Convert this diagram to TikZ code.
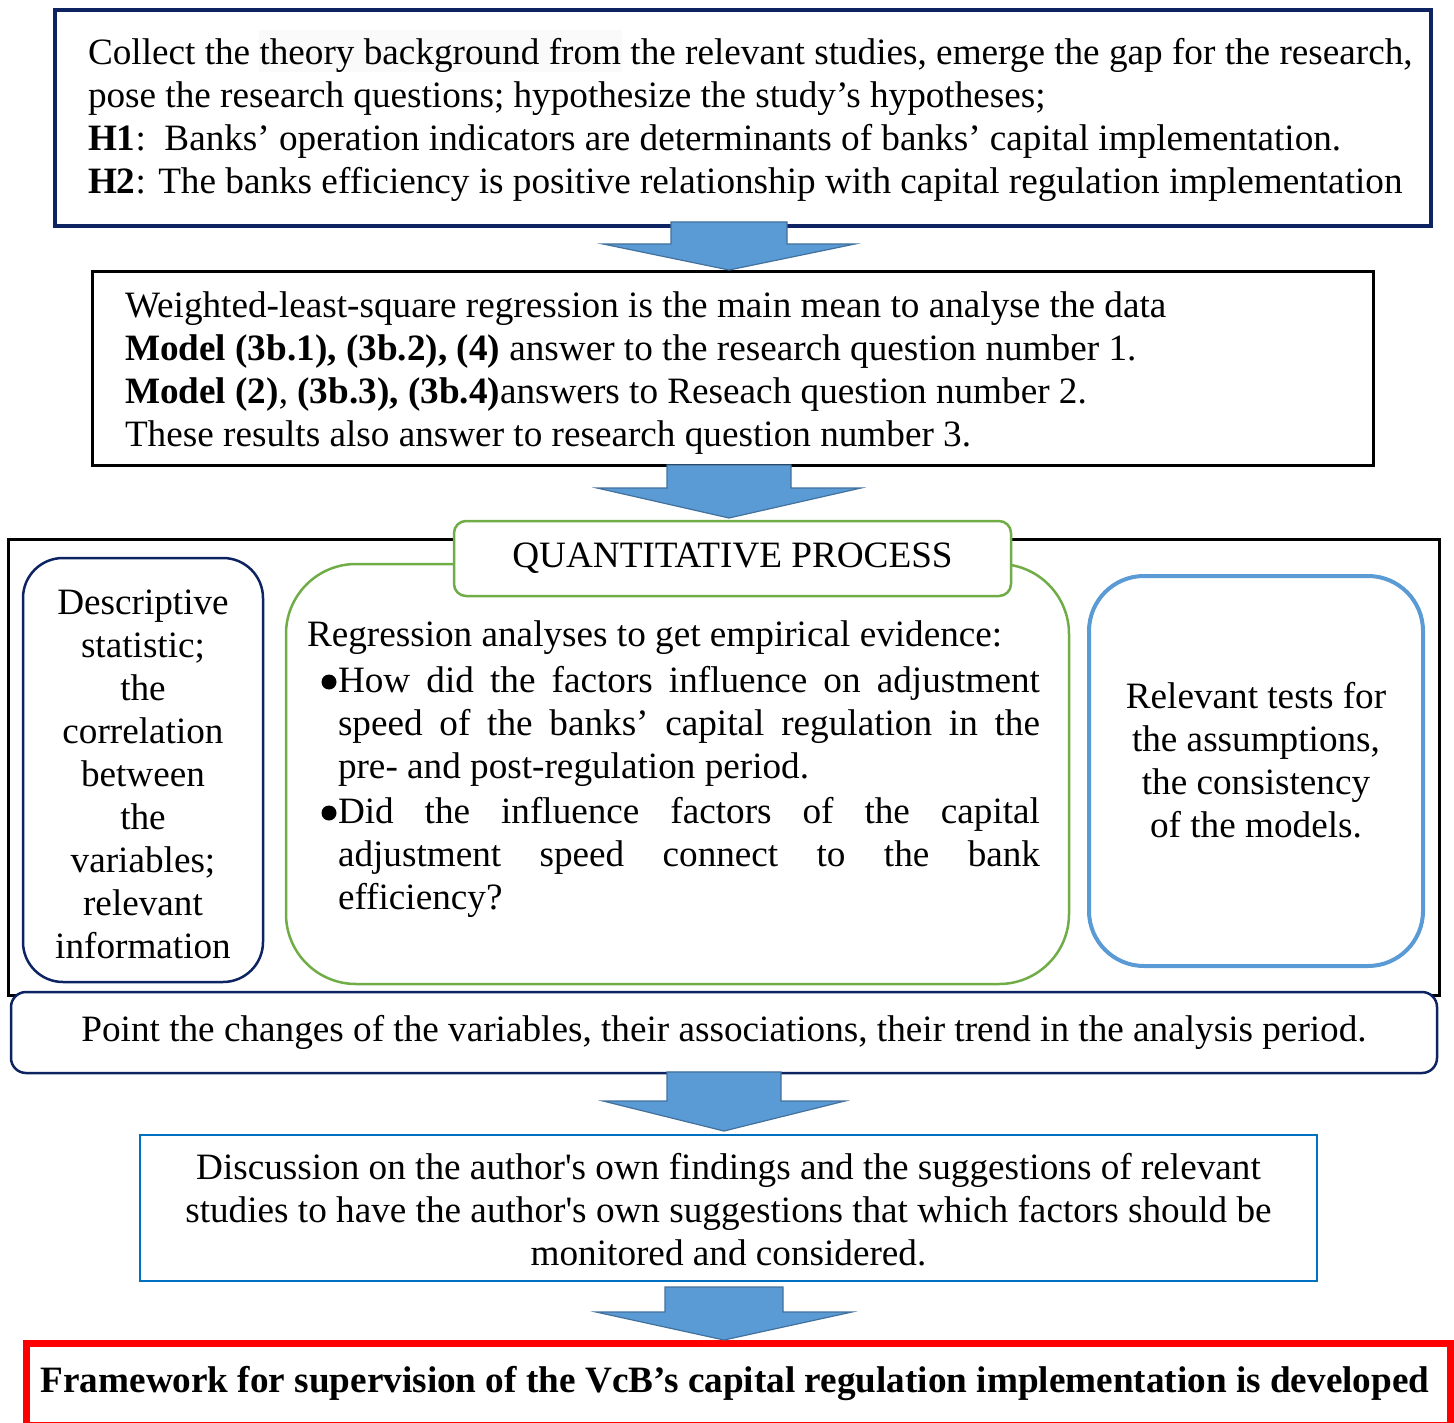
\documentclass[tikz,border=0pt]{standalone}
\usepackage{fontspec}
\setmainfont{Liberation Serif}[Ligatures=TeXOff]
\usetikzlibrary{calc}
\definecolor{navy}{RGB}{14,36,98}
\definecolor{qgreen}{RGB}{112,173,71}
\definecolor{lblue}{RGB}{91,155,213}
\definecolor{dblue}{RGB}{0,112,192}
\definecolor{arrowfill}{RGB}{91,155,213}
\definecolor{arrowline}{RGB}{65,113,156}
\tikzset{
  box/.style={draw, rectangle, inner sep=0pt, outer sep=0pt, fill=white},
  txt/.style={inner sep=0pt, outer sep=0pt, font=\fontsize{37.2}{43}\selectfont},
  barrow/.style={fill=arrowfill, draw=arrowline, line width=1.2pt, line join=miter},
  bulletdot/.style={fill=black},
}
% #1 from node, #2 to node, #3 centre x, #4 shaft top offset, #5 tip offset,
% #6 shaft half width, #7 head half width, #8 head length
\newcommand\fatarrow[8]{%
  \path[barrow] let \p1=(#1.south), \p2=(#2.north) in
    ({(#3-#6)*1pt},{\y1-(#4)*1pt}) --
    ({(#3+#6)*1pt},{\y1-(#4)*1pt}) --
    ({(#3+#6)*1pt},{\y2-(#5)*1pt+(#8)*1pt}) --
    ({(#3+#7)*1pt},{\y2-(#5)*1pt+(#8)*1pt}) --
    ({#3*1pt},{\y2-(#5)*1pt}) --
    ({(#3-#7)*1pt},{\y2-(#5)*1pt+(#8)*1pt}) --
    ({(#3-#6)*1pt},{\y2-(#5)*1pt+(#8)*1pt}) -- cycle;}
\begin{document}
\begin{tikzpicture}[x=1pt,y=-1pt]
\useasboundingbox (0,0) rectangle (1454,1423);

% ---- box 1
\node[box, draw=navy, line width=4pt, minimum width=1376pt, minimum height=216pt] (b1) at (743,118) {};
\fill[gray!4] (259,30) rectangle (622,72);
\node[txt, anchor=north west, align=left] (t1) at (88,34.9) {\strut Collect the theory background from the relevant studies, emerge the gap for the research,\\
pose the research questions; hypothesize the study’s hypotheses;\\
\textbf{H1}:\ \ Banks’ operation indicators are determinants of banks’ capital implementation.\\
\textbf{H2}: The banks efficiency is positive relationship with capital regulation implementation};

% ---- box 2
\node[box, line width=3pt, minimum width=1281pt, minimum height=194pt] (b2) at (733,368.5) {};
\node[txt, anchor=north west, align=left] (t2) at (125,286.9) {\strut Weighted-least-square regression is the main mean to analyse the data\\
\textbf{Model (3b.1), (3b.2), (4)} answer to the research question number 1.\\
\textbf{Model (2)}, \textbf{(3b.3), (3b.4)}answers to Reseach question number 2.\\
These results also answer to research question number 3.};

% ---- quantitative frame
\node[draw, rectangle, inner sep=0pt, outer sep=0pt, line width=3pt, minimum width=1431pt, minimum height=456pt] (b3) at (724,767.5) {};

\node[box, draw=navy, line width=2.5pt, rounded corners=40pt, minimum width=240pt, minimum height=424pt] (lb) at (143,770) {};
\node[txt, anchor=north, align=center] (tl) at (143,584) {\strut Descriptive\\statistic;\\the\\correlation\\between\\the\\variables;\\relevant\\information};

\node[box, draw=qgreen, line width=2.5pt, rounded corners=70pt, minimum width=783pt, minimum height=420pt] (mb) at (677.5,774) {};
\node[txt, anchor=north west, align=left] (tm) at (307,615.9) {\strut Regression analyses to get empirical evidence:\\[3pt]
\hspace*{31pt}\makebox[702pt][s]{How did the factors influence on adjustment}\\
\hspace*{31pt}\makebox[702pt][s]{speed of the banks’ capital regulation in the}\\
\hspace*{31pt}pre- and post-regulation period.\\[2pt]
\hspace*{31pt}\makebox[702pt][s]{Did the influence factors of the capital}\\
\hspace*{31pt}\makebox[702pt][s]{adjustment speed connect to the bank}\\
\hspace*{31pt}efficiency?};
\fill[bulletdot] (329,682) circle (7.5);
\fill[bulletdot] (329,813) circle (7.5);

\node[box, draw=lblue, line width=4pt, rounded corners=55pt, minimum width=334pt, minimum height=390pt] (rbx) at (1256,771) {};
\node[txt, anchor=north, align=center] (tr) at (1256,677.9) {\strut Relevant tests for\\the assumptions,\\the consistency\\of the models.};

\node[box, draw=qgreen, line width=2.5pt, rounded corners=12pt, minimum width=557pt, minimum height=75pt, txt] (qp) at (732.5,558.5) {QUANTITATIVE PROCESS};

\node[box, draw=navy, line width=2.5pt, rounded corners=15pt, minimum width=1426pt, minimum height=81pt, txt] (pb) at (724,1032.5) {Point the changes of the variables, their associations, their trend in the analysis period.};

% ---- discussion
\node[box, draw=dblue, line width=2.5pt, minimum width=1177pt, minimum height=146pt] (db) at (728.5,1208) {};
\node[txt, anchor=north, align=center] (td) at (728.5,1148.9) {\strut Discussion on the author's own findings and the suggestions of relevant\\studies to have the author's own suggestions that which factors should be\\monitored and considered.};

% ---- final
\node[box, draw=red, line width=7pt, minimum width=1423.5pt, minimum height=82pt] (rb) at (738.25,1384.5) {};
\node[txt, anchor=base, font=\fontsize{37.2}{43}\selectfont\bfseries] (tf) at (735,1392) {Framework for supervision of the VcB’s capital regulation implementation is developed};

% ---- block arrows
\fatarrow{b1}{b2}{729}{-4}{-1.5}{58}{126}{26}
\fatarrow{b2}{qp}{729}{-0.5}{-3}{62}{132}{30}
\fatarrow{pb}{db}{724}{-1}{-4}{57}{121}{30}
\fatarrow{db}{rb}{724}{6}{-3.5}{59}{128}{28}
\end{tikzpicture}
\end{document}
